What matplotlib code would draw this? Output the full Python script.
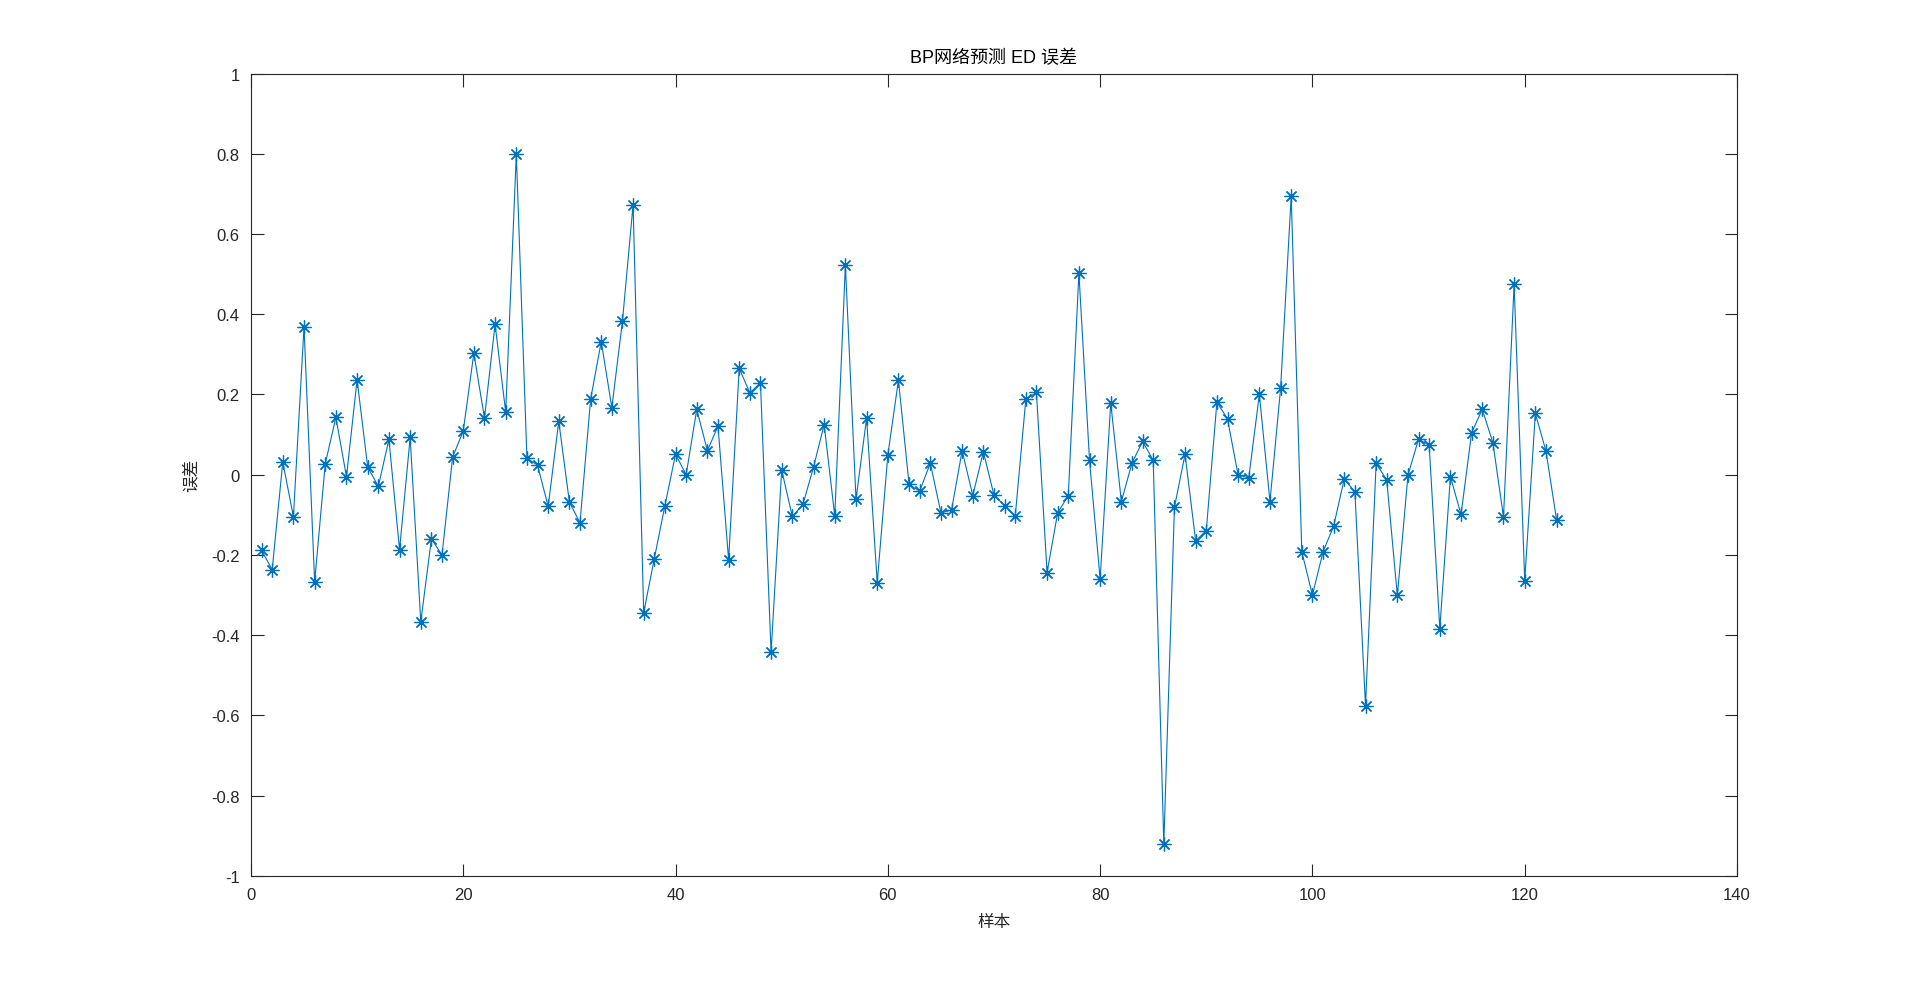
import matplotlib
matplotlib.use("Agg")
import matplotlib.pyplot as plt
import numpy as np

# BP网络预测 ED 误差 - 每个样本的误差
err = [-0.188, -0.237, 0.032, -0.105, 0.369, -0.267, 0.027, 0.143, -0.005, 0.237,
       0.019, -0.029, 0.088, -0.187, 0.093, -0.367, -0.160, -0.200, 0.044, 0.109,
       0.303, 0.141, 0.375, 0.156, 0.800, 0.041, 0.024, -0.079, 0.133, -0.068,
       -0.120, 0.188, 0.332, 0.167, 0.383, 0.673, -0.344, -0.209, -0.077, 0.051,
       0.000, 0.163, 0.060, 0.121, -0.212, 0.265, 0.204, 0.229, -0.443, 0.012,
       -0.104, -0.074, 0.019, 0.125, -0.103, 0.523, -0.061, 0.141, -0.269, 0.049,
       0.236, -0.024, -0.041, 0.029, -0.095, -0.088, 0.060, -0.052, 0.057, -0.051,
       -0.077, -0.104, 0.188, 0.205, -0.244, -0.095, -0.052, 0.503, 0.036, -0.260,
       0.179, -0.067, 0.029, 0.083, 0.036, -0.921, -0.081, 0.051, -0.165, -0.139,
       0.181, 0.139, -0.001, -0.008, 0.200, -0.067, 0.215, 0.695, -0.192, -0.300,
       -0.192, -0.128, -0.010, -0.043, -0.576, 0.028, -0.013, -0.301, -0.001, 0.089,
       0.073, -0.384, -0.005, -0.099, 0.105, 0.163, 0.080, -0.105, 0.475, -0.264,
       0.153, 0.059, -0.112]
samples = np.arange(1, len(err) + 1)

xticks = np.arange(0, 141, 20)
yticks = np.round(np.arange(-1, 1.01, 0.2), 1)
ylabels = ["%g" % (v + 0.0) for v in yticks]
ylabels = ["0" if l == "-0" else l for l in ylabels]

plt.rcParams['font.family'] = ['Liberation Sans', 'Noto Sans CJK SC', 'DejaVu Sans']
grey = '#262626'

fig = plt.figure(figsize=(19.2, 9.87), dpi=100)
ax = fig.add_axes([0.1307, 0.1115, 0.774, 0.813])

# 星号标记 (8 条辐射线, 像 MATLAB 的 '*')
ax.plot(samples, err, color='#0072BD', linewidth=0.8, marker=(8, 2, 0),
        markersize=10, markeredgewidth=0.9, markerfacecolor='none')

ax.set_xlim(0, 140)
ax.set_ylim(-1, 1)
ax.set_xticks(xticks)
ax.set_yticks(yticks)
ax.set_yticklabels(ylabels)

ax.tick_params(direction='in', length=9, width=0.8, top=True, right=True,
               labelsize=12, colors=grey, pad=8)
for s in ax.spines.values():
    s.set_color(grey)
    s.set_linewidth(0.8)

ax.set_title("BP网络预测 ED 误差", fontsize=13, color='black', pad=8)
ax.set_xlabel("样本", fontsize=12, color=grey, family=['Noto Sans CJK SC'],
              fontweight='light', labelpad=8)
ax.set_ylabel("误差", fontsize=12, color=grey, family=['Noto Sans CJK SC'],
              fontweight='light', labelpad=8)

fig.savefig("out.png", dpi=100, facecolor='white')
